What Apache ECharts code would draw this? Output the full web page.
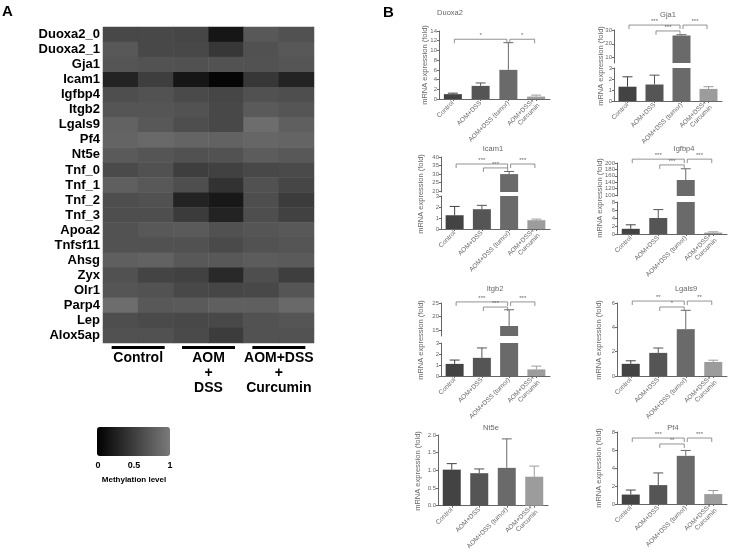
<!DOCTYPE html>
<html><head><meta charset="utf-8">
<script src="https://cdn.jsdelivr.net/npm/echarts@6/dist/echarts.min.js"></script>
<style>html,body{margin:0;padding:0;background:#fff}#c{width:729px;height:552px}</style>
</head><body><div id="c"></div>
<script>
// ---------- Panel A data ----------
const geneRows = ['Duoxa2_0','Duoxa2_1','Gja1','Icam1','Igfbp4','Itgb2','Lgals9','Pf4','Nt5e','Tnf_0','Tnf_1','Tnf_2','Tnf_3','Apoa2','Tnfsf11','Ahsg','Zyx','Olr1','Parp4','Lep','Alox5ap'];
const sampleCols = ['Control 1','Control 2','AOM+DSS 1','AOM+DSS 2','Curcumin 1','Curcumin 2'];
const heatGroups = ['Control','AOM\n+\nDSS','AOM+DSS\n+\nCurcumin'];
const methylation = [
  [0.59,0.59,0.57,0.18,0.72,0.66],
  [0.72,0.59,0.59,0.45,0.66,0.72],
  [0.70,0.67,0.66,0.67,0.67,0.70],
  [0.29,0.51,0.18,0.04,0.45,0.29],
  [0.64,0.67,0.61,0.57,0.66,0.64],
  [0.70,0.70,0.67,0.59,0.74,0.70],
  [0.80,0.72,0.64,0.59,0.89,0.78],
  [0.82,0.86,0.82,0.80,0.84,0.82],
  [0.74,0.70,0.66,0.67,0.75,0.72],
  [0.61,0.66,0.51,0.53,0.59,0.61],
  [0.78,0.72,0.64,0.41,0.66,0.57],
  [0.64,0.66,0.29,0.20,0.64,0.49],
  [0.64,0.64,0.48,0.29,0.64,0.53],
  [0.67,0.72,0.74,0.66,0.70,0.72],
  [0.67,0.66,0.66,0.61,0.67,0.70],
  [0.78,0.80,0.72,0.72,0.75,0.74],
  [0.66,0.56,0.53,0.34,0.64,0.51],
  [0.70,0.67,0.59,0.57,0.59,0.70],
  [0.89,0.72,0.74,0.78,0.78,0.86],
  [0.64,0.61,0.59,0.59,0.67,0.70],
  [0.66,0.66,0.61,0.49,0.67,0.67]
];
const colorbarTicks = ['0','0.5','1'];

// ---------- Panel B data ----------
const barGroups = ['Control','AOM+DSS','AOM+DSS (tumor)','AOM+DSS+\nCurcumin'];
const duoxa2Mean = [1.0, 2.7, 6.0, 0.5];
const duoxa2Err  = [1.2, 3.3, 11.6, 0.8];
const duoxa2Sig  = [[0,2,12.3,'*'],[2,3,12.3,'*']];
const gja1Mean = [1.3, 1.5, 26, 1.1];
const gja1Err  = [2.2, 2.35, 26.6, 1.3];
const gja1Sig  = [[0,2,33.6,'***'],[1,2,29.3,'***'],[2,3,33.6,'***']];
const icam1Mean = [1.25, 1.8, 30, 0.8];
const icam1Err  = [2.05, 2.15, 31.5, 0.9];
const icam1Sig  = [[0,2,35.9,'***'],[1,2,33.6,'***'],[2,3,35.9,'***']];
const igfbp4Mean = [1.3, 4.0, 147, 0.35];
const igfbp4Err  = [2.3, 6.1, 182, 0.55];
const igfbp4Sig  = [[0,2,212,'***'],[1,2,194,'***'],[2,3,212,'***']];
const itgb2Mean = [1.1, 1.65, 16.5, 0.6];
const itgb2Err  = [1.45, 2.55, 22.5, 0.9];
const itgb2Sig  = [[0,2,25.4,'***'],[1,2,23.5,'***'],[2,3,25.4,'***']];
const lgals9Mean = [1.0, 1.9, 3.85, 1.15];
const lgals9Err  = [1.25, 2.3, 5.4, 1.3];
const lgals9Sig  = [[0,2,6.16,'**'],[1,2,5.67,'*'],[2,3,6.16,'**']];
const nt5eMean = [1.02, 0.92, 1.07, 0.82];
const nt5eErr  = [1.19, 1.04, 1.89, 1.12];
const nt5eSig  = [];
const pf4Mean = [1.05, 2.1, 5.35, 1.1];
const pf4Err  = [1.55, 3.45, 5.95, 1.5];
const pf4Sig  = [[0,2,7.33,'***'],[1,2,6.67,'**'],[2,3,7.33,'***']];

// ---------- styles / layout ----------
const FONT = "'Liberation Sans', Arial, sans-serif";
const barColors = ['#434343','#555555','#6a6a6a','#9c9c9c'];
const axisColor = '#666';
const txtColor = '#666';

const panels = [
  {name:'Duoxa2', mean:duoxa2Mean, err:duoxa2Err, sig:duoxa2Sig, left:439, width:111, title:[450,13], yname:[425,65],
   segs:[{top:31,height:68,min:0,max:14,interval:2}]},
  {name:'Gja1', mean:gja1Mean, err:gja1Err, sig:gja1Sig, left:614, width:108, title:[668,15], yname:[601,66],
   segs:[{top:30,height:33,min:6,max:30,ticks:[10,20,30]},{top:68,height:33,min:0,max:3,interval:1}]},
  {name:'Icam1', mean:icam1Mean, err:icam1Err, sig:icam1Sig, left:441, width:109, title:[493,149], yname:[421,194],
   segs:[{top:157,height:35,min:19.5,max:40,ticks:[20,25,30,35,40]},{top:196,height:33,min:0,max:3,interval:1}]},
  {name:'Igfbp4', mean:igfbp4Mean, err:igfbp4Err, sig:igfbp4Sig, left:617, width:110, title:[684,149], yname:[600,198],
   segs:[{top:163,height:33,min:97,max:200,ticks:[100,120,140,160,180,200]},{top:202,height:32,min:0,max:8,interval:2}]},
  {name:'Itgb2', mean:itgb2Mean, err:itgb2Err, sig:itgb2Sig, left:441, width:109, title:[495,289], yname:[421,340],
   segs:[{top:303,height:33,min:12.8,max:25,ticks:[15,20,25]},{top:343,height:33,min:0,max:3,interval:1}]},
  {name:'Lgals9', mean:lgals9Mean, err:lgals9Err, sig:lgals9Sig, left:617, width:110, title:[686,289], yname:[599,340],
   segs:[{top:303,height:73,min:0,max:6,interval:2}]},
  {name:'Nt5e', mean:nt5eMean, err:nt5eErr, sig:nt5eSig, left:438, width:110, title:[491,428], yname:[418,471],
   segs:[{top:435,height:72,min:0,max:2,interval:0.5,fixed:1}]},
  {name:'Pf4', mean:pf4Mean, err:pf4Err, sig:pf4Sig, left:617, width:110, title:[673,428], yname:[599,468],
   segs:[{top:432,height:72,min:0,max:8,interval:2}]}
];

const option = {
  backgroundColor:'#fff',
  animation:false,
  grid:[], xAxis:[], yAxis:[], series:[], graphic:[],
  visualMap:{
    type:'continuous', min:0, max:1, seriesIndex:0, dimension:2,
    orient:'horizontal', left:97, top:427, itemWidth:29, itemHeight:73,
    padding:0, calculable:false, realtime:false, hoverLink:false,
    inRange:{color:['#000000','#7a7a7a']}
  }
};

// ---- heatmap ----
option.grid.push({left:103, top:27, width:211, height:316});
option.xAxis.push({gridIndex:0, type:'category', data:sampleCols, show:false});
option.xAxis.push({gridIndex:0, type:'category', data:heatGroups, position:'bottom',
  axisLine:{show:false}, axisTick:{show:false}, splitLine:{show:false},
  axisLabel:{interval:0, margin:1, color:'#000',
    formatter:(v)=>'{bar| }\n' + v.split('\n').map(s=>'{t|'+s+'}').join('\n'),
    rich:{
      bar:{width:53, height:3, lineHeight:7, backgroundColor:'#000', align:'center'},
      t:{fontFamily:FONT, fontWeight:'bold', fontSize:14, lineHeight:15, color:'#000', align:'center'}
    }}
});
option.yAxis.push({gridIndex:0, type:'category', data:geneRows, inverse:true,
  axisLine:{show:false}, axisTick:{show:false},
  axisLabel:{interval:0, margin:3, fontFamily:FONT, fontWeight:'bold', fontSize:13, color:'#000'}});
const heatData = [];
methylation.forEach((row, r) => row.forEach((v, c) => heatData.push([c, r, v])));
option.series.push({type:'heatmap', xAxisIndex:0, yAxisIndex:0, data:heatData, silent:true});

// ---- bar panels ----
function errRender(params, api) {
  const i = api.value(0), m = api.value(1), e = api.value(2);
  const p0 = api.coord([i, m]), p1 = api.coord([i, e]);
  const c = barColors[i];
  return {type:'group', children:[
    {type:'line', shape:{x1:p0[0], y1:p0[1], x2:p1[0], y2:p1[1]}, style:{stroke:c, lineWidth:1}},
    {type:'line', shape:{x1:p1[0]-5, y1:p1[1], x2:p1[0]+5, y2:p1[1]}, style:{stroke:c, lineWidth:1}}
  ]};
}
function makeSigRender(sig) {
  return function(params, api) {
    const s = sig[params.dataIndex];
    const a = api.coord([s[0], s[2]]), b = api.coord([s[1], s[2]]);
    const x1 = a[0] + 1.5, x2 = b[0] - 1.5, y = a[1];
    return {type:'group', children:[
      {type:'polyline', shape:{points:[[x1,y+4],[x1,y],[x2,y],[x2,y+4]]}, style:{stroke:'#777', lineWidth:0.8, fill:null}},
      {type:'text', x:(x1+x2)/2, y:y-0.5, style:{text:s[3], fill:txtColor, font:'6px '+FONT, align:'center', verticalAlign:'bottom'}}
    ]};
  };
}

panels.forEach(p => {
  p.segs.forEach((s, k) => {
    const bottom = k === p.segs.length - 1;
    const gi = option.grid.length, xi = option.xAxis.length, yi = option.yAxis.length;
    option.grid.push({left:p.left, top:s.top, width:p.width, height:s.height});
    option.xAxis.push({gridIndex:gi, type:'category', data:barGroups,
      axisLine:{show:bottom, lineStyle:{color:axisColor, width:1}},
      axisTick:{show:bottom, alignWithLabel:true, length:2, lineStyle:{color:axisColor}},
      axisLabel:{show:bottom, interval:0, rotate:45, margin:3, fontSize:6.5, fontFamily:FONT, color:txtColor, lineHeight:7},
      splitLine:{show:false}});
    const ya = {gridIndex:gi, type:'value', min:s.min, max:s.max,
      axisLine:{show:true, lineStyle:{color:axisColor, width:1}},
      axisTick:{show:true, length:2, lineStyle:{color:axisColor}},
      axisLabel:{fontSize:6, fontFamily:FONT, color:txtColor, margin:2, hideOverlap:false,
        showMinLabel:true, showMaxLabel:true,
        formatter: s.fixed ? (v)=>v.toFixed(s.fixed) : (v)=>String(v)},
      splitLine:{show:false}};
    if (s.ticks) { ya.axisLabel.customValues = s.ticks; ya.axisTick.customValues = s.ticks; }
    else ya.interval = s.interval;
    option.yAxis.push(ya);
    option.series.push({type:'bar', xAxisIndex:xi, yAxisIndex:yi, barWidth:18, clip:true, silent:true,
      data:p.mean.map((v,i)=>({value:v, itemStyle:{color:barColors[i]}}))});
    option.series.push({type:'custom', xAxisIndex:xi, yAxisIndex:yi, clip:true, silent:true,
      data:p.mean.map((v,i)=>[i, v, p.err[i]]), renderItem:errRender});
    if (k === 0 && p.sig.length) {
      option.series.push({type:'custom', xAxisIndex:xi, yAxisIndex:yi, clip:false, silent:true, z:5,
        data:p.sig.map(s2=>[s2[0], s2[1], s2[2]]), renderItem:makeSigRender(p.sig)});
    }
  });
  option.graphic.push({type:'text', x:p.title[0], y:p.title[1], style:{text:p.name, fill:txtColor, font:'7.5px '+FONT, align:'center', verticalAlign:'middle'}});
  option.graphic.push({type:'text', x:p.yname[0], y:p.yname[1], rotation:Math.PI/2, style:{text:'mRNA expression (fold)', fill:txtColor, font:'7.5px '+FONT, align:'center', verticalAlign:'middle'}});
});

// ---- panel letters and colorbar labels ----
option.graphic.push({type:'text', x:2, y:4, style:{text:'A', fill:'#000', font:'bold 15px '+FONT}});
option.graphic.push({type:'text', x:383, y:5, style:{text:'B', fill:'#000', font:'bold 15px '+FONT}});
const cbX = [98, 134, 170];
colorbarTicks.forEach((t, i) => option.graphic.push({type:'text', x:cbX[i], y:466, style:{text:t, fill:'#000', font:'bold 9px '+FONT, align:'center', verticalAlign:'middle'}}));
option.graphic.push({type:'text', x:134, y:480, style:{text:'Methylation level', fill:'#000', font:'bold 8px '+FONT, align:'center', verticalAlign:'middle'}});

const chart = echarts.init(document.getElementById('c'), null, {renderer:'canvas'});
chart.setOption(option);
</script></body></html>
